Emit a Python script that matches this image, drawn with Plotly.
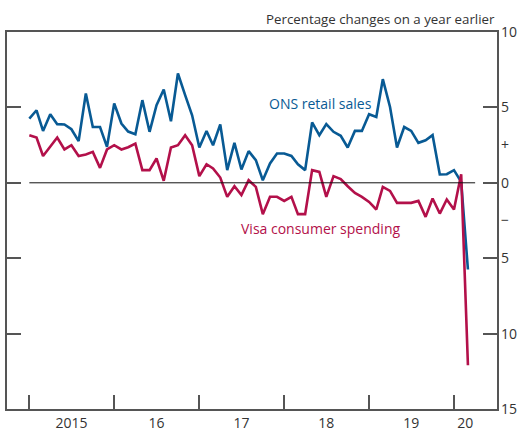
import pandas as pd
import plotly.graph_objects as go

months = pd.date_range("2015-01-01", periods=63, freq="MS")

ons_retail = [4.26, 4.81, 3.44, 4.55, 3.89, 3.87, 3.55, 2.76, 5.92, 3.70, 3.70, 2.38,
              5.26, 3.93, 3.40, 3.22, 5.48, 3.38, 5.15, 6.19, 4.08, 7.25, 5.81, 4.48,
              2.34, 3.44, 2.49, 3.87, 0.84, 2.65, 0.88, 2.10, 1.50, 0.17, 1.28, 1.94,
              1.94, 1.78, 1.23, 0.84, 4.00, 3.16, 3.89, 3.38, 3.12, 2.34, 3.44, 3.44,
              4.55, 4.37, 6.87, 5.03, 2.34, 3.70, 3.44, 2.65, 2.82, 3.16, 0.55, 0.57,
              0.84, 0.06, -5.75]

visa_spending = [3.16, 3.00, 1.78, 2.43, 3.00, 2.21, 2.49, 1.78, 1.88, 2.05, 0.99, 2.21,
                 2.49, 2.21, 2.36, 2.60, 0.84, 0.84, 1.61, 0.13, 2.34, 2.49, 3.16, 2.49,
                 0.44, 1.23, 0.95, 0.35, -0.93, -0.23, -0.82, 0.17, -0.27, -2.08, -0.93, -0.93,
                 -1.20, -0.93, -2.08, -2.08, 0.84, 0.72, -0.93, 0.44, 0.25, -0.23, -0.67, -0.93,
                 -1.27, -1.77, -0.27, -0.54, -1.33, -1.33, -1.33, -1.20, -2.26, -1.04, -2.04, -1.11,
                 -1.77, 0.57, -12.10]

year_starts = pd.to_datetime(["2015-01-01", "2016-01-01", "2017-01-01",
                              "2018-01-01", "2019-01-01", "2020-01-01"])
year_label_pos = pd.to_datetime(["2015-07-01", "2016-07-01", "2017-07-01",
                                 "2018-07-01", "2019-07-01", "2020-02-18"])
year_labels = ["2015", "16", "17", "18", "19", "20"]

y_label_vals = [10, 5, 2.5, 0, -2.5, -5, -10, -15]
y_label_text = ["10", "5", "+", "0", "−", "5", "10", "15"]
y_tick_marks = [5, 0, -5, -10]
y_range = [-15, 10]

BLUE = "#085a94"
RED = "#b3104a"
AXIS = "#555555"
TEXT = "#333333"
FONT = "Open Sans"

zero_end = months[-1] + pd.offsets.MonthBegin(1)

fig = go.Figure()
fig.add_trace(go.Scatter(x=[months[0], zero_end], y=[0, 0], mode="lines", yaxis="y2",
                         line=dict(color="#111111", width=1), hoverinfo="skip",
                         showlegend=False))
fig.add_trace(go.Scatter(x=months, y=ons_retail, mode="lines",
                         line=dict(color=BLUE, width=2.6), showlegend=False))
fig.add_trace(go.Scatter(x=months, y=visa_spending, mode="lines",
                         line=dict(color=RED, width=2.6), showlegend=False))

fig.add_annotation(x="2018-06-08", y=5.28, text="ONS retail sales", showarrow=False,
                   font=dict(color=BLUE, size=14, family=FONT), xanchor="center", yanchor="middle")
fig.add_annotation(x="2018-06-08", y=-3.0, text="Visa consumer spending", showarrow=False,
                   font=dict(color=RED, size=14, family=FONT), xanchor="center", yanchor="middle")
fig.add_annotation(xref="paper", yref="paper", x=1.0, y=1.035,
                   text="Percentage changes on a year earlier", showarrow=False,
                   font=dict(color=TEXT, size=13.3, family=FONT), xanchor="right", yanchor="middle")

fig.update_layout(
    width=521, height=431,
    margin=dict(l=7, r=24, t=32, b=22),
    paper_bgcolor="white", plot_bgcolor="white",
    font=dict(family=FONT, size=13, color=TEXT),
    xaxis=dict(
        range=["2014-09-27", "2020-07-04"], automargin=False,
        showgrid=False, zeroline=False,
        showline=True, linecolor=AXIS, linewidth=1.5, mirror=True,
        tickmode="array", tickvals=year_label_pos, ticktext=year_labels,
        ticks="", tickfont=dict(size=14, color=TEXT, family=FONT),
        minor=dict(tickmode="array", tickvals=year_starts, ticks="inside",
                   ticklen=14, tickwidth=1.5, tickcolor=AXIS, showgrid=False),
    ),
    yaxis=dict(
        range=y_range, side="right", automargin=False,
        showgrid=False, zeroline=False,
        showline=True, linecolor=AXIS, linewidth=1.5, mirror="ticks",
        tickmode="array", tickvals=y_tick_marks, showticklabels=False,
        ticks="inside", ticklen=14, tickwidth=1.5, tickcolor=AXIS,
    ),
    yaxis2=dict(
        range=y_range, side="right", overlaying="y", automargin=False,
        showgrid=False, zeroline=False, showline=False,
        tickmode="array", tickvals=y_label_vals, ticktext=y_label_text,
        ticks="", ticklabelstandoff=3,
        tickfont=dict(size=14, color=TEXT, family=FONT),
    ),
)

fig.write_html("out.html", config={"displayModeBar": False},
               post_script="document.body.style.margin='0';document.body.style.overflow='hidden';")
